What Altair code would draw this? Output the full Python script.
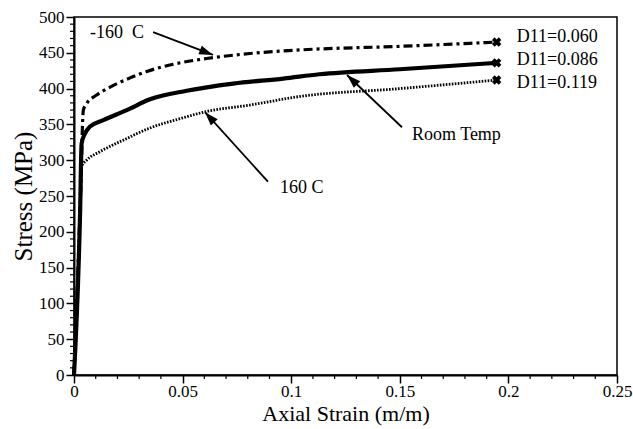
import math
import altair as alt
import pandas as pd

# ---- data ----
cold_x = [0, 0.0030, 0.0043, 0.0058, 0.0104, 0.0166, 0.0258, 0.0335, 0.0457, 0.061, 0.081, 0.104, 0.150, 0.1946]
cold_y = [0, 250, 370, 379, 391, 402, 415, 424, 434, 442, 449, 454, 459, 465]

room_x = [0, 0.0028, 0.0035, 0.0050, 0.0074, 0.0135, 0.0243, 0.035, 0.0519, 0.0733, 0.0964, 0.113, 0.150, 0.1946]
room_y = [0, 226, 323, 337, 347, 356, 370, 385, 397, 407, 414, 420, 427, 436]

hot_x = [0, 0.0030, 0.0035, 0.0058, 0.012, 0.0227, 0.035, 0.0488, 0.061, 0.081, 0.104, 0.150, 0.1946]
hot_y = [0, 240, 291, 300, 312, 328, 345, 358, 368, 377, 389, 400, 412]

end_labels = ["D11=0.060", "D11=0.086", "D11=0.119"]
end_label_x = [0.2038, 0.2038, 0.2038]
end_label_y = [472, 440, 408]

ann_text = ["-160\u2002C", "Room Temp", "160 C"]
ann_text_x = [0.0074, 0.1556, 0.0948]
ann_text_y = [478, 335, 261]
arrow_tail_x = [0.0364, 0.151, 0.0893]
arrow_tail_y = [479, 346, 270]
arrow_tip_x = [0.064, 0.1257, 0.0603]
arrow_tip_y = [447, 419, 367]

x_ticks = [0, 0.05, 0.1, 0.15, 0.2, 0.25]
y_ticks = list(range(0, 501, 50))
x_minor = [i / 100 for i in range(0, 26) if i % 5]
y_minor = [v for v in range(0, 501, 10) if v % 50]

W, H = 543, 358
XMAX, YMAX = 0.25, 500
FONT = "Liberation Serif"

xs = alt.Scale(domain=[0, XMAX], nice=False, zero=True)
ys = alt.Scale(domain=[0, YMAX], nice=False)
x_axis = alt.Axis(values=x_ticks, format="~g", title="Axial Strain (m/m)")
y_axis = alt.Axis(values=y_ticks, title="Stress (MPa)")

def X(field="strain"):
    return alt.X(f"{field}:Q", scale=xs, axis=x_axis)

def Y(field="stress"):
    return alt.Y(f"{field}:Q", scale=ys, axis=y_axis)

def curve(xv, yv, width, dash=None):
    kw = dict(color="black", strokeWidth=width, interpolate="monotone", clip=False)
    if dash:
        kw["strokeDash"] = dash
    df = pd.DataFrame({"strain": xv, "stress": yv})
    return alt.Chart(df).mark_line(**kw).encode(x=X(), y=Y())

cold = curve(cold_x, cold_y, 3.2, [9, 4, 3, 4])
hot = curve(hot_x, hot_y, 2.8, [1.6, 1.4])
room = curve(room_x, room_y, 4.2)

ends = pd.DataFrame({
    "strain": [cold_x[-1], room_x[-1], hot_x[-1]],
    "stress": [cold_y[-1], room_y[-1], hot_y[-1]],
})
markers = alt.Chart(ends).mark_point(
    shape="cross", angle=45, size=90, filled=True, color="black", opacity=1
).encode(x=X(), y=Y())

end_df = pd.DataFrame({"strain": end_label_x, "stress": end_label_y, "t": end_labels})
end_text = alt.Chart(end_df).mark_text(
    align="left", baseline="middle", font=FONT, fontSize=18, color="black"
).encode(x=X(), y=Y(), text="t:N")

ann_df = pd.DataFrame({"strain": ann_text_x, "stress": ann_text_y, "t": ann_text})
ann = alt.Chart(ann_df).mark_text(
    align="left", baseline="middle", font=FONT, fontSize=18, color="black"
).encode(x=X(), y=Y(), text="t:N")

arr_df = pd.DataFrame({"strain": arrow_tail_x, "stress": arrow_tail_y,
                       "x2": arrow_tip_x, "y2": arrow_tip_y})
arrow_lines = alt.Chart(arr_df).mark_rule(color="black", strokeWidth=1.8).encode(
    x=X(), y=Y(), x2="x2:Q", y2="y2:Q"
)

ARROW_PATH = "M0,0L-0.5,1.5L0.5,1.5Z"
heads = []
for tx, ty, hx, hy in zip(arrow_tail_x, arrow_tail_y, arrow_tip_x, arrow_tip_y):
    dx = (hx - tx) * W / XMAX
    dy = -(hy - ty) * H / YMAX
    ang = math.degrees(math.atan2(dx, -dy)) % 360
    heads.append(
        alt.Chart(pd.DataFrame({"strain": [hx], "stress": [hy]})).mark_point(
            shape=ARROW_PATH, angle=ang, size=340, filled=True, color="black", opacity=1
        ).encode(x=X(), y=Y())
    )

yminor = alt.Chart(pd.DataFrame({"stress": y_minor})).mark_rule(color="black", strokeWidth=1.2).encode(
    y=Y(), x=alt.value(-4), x2=alt.value(0)
)
xminor = alt.Chart(pd.DataFrame({"strain": x_minor})).mark_rule(color="black", strokeWidth=1.2).encode(
    x=X(), y=alt.value(H), y2=alt.value(H + 4)
)

chart = alt.layer(
    cold, hot, room, markers, end_text, ann, arrow_lines, *heads, yminor, xminor
).properties(
    width=W, height=H,
    autosize=alt.AutoSizeParams(type="none"),
    padding={"left": 74, "top": 17, "right": 16, "bottom": 54},
    background="white",
).configure_view(
    stroke="black", strokeWidth=1.5
).configure_axis(
    grid=False,
    labelFont=FONT, labelFontSize=17, labelColor="black",
    titleFont=FONT, titleFontWeight="normal", titleColor="black",
    domainColor="black", domainWidth=2,
    tickColor="black", tickWidth=1.5, tickSize=8,
    labelOverlap=False, labelFlush=False, labelPadding=2,
).configure_axisY(
    titleFontSize=25, titleX=-51, titleBaseline="middle"
).configure_axisX(
    titleFontSize=22, titleY=45, titleBaseline="alphabetic", labelPadding=0
)

chart.save("out.html", embed_options={"renderer": "svg", "actions": False})
